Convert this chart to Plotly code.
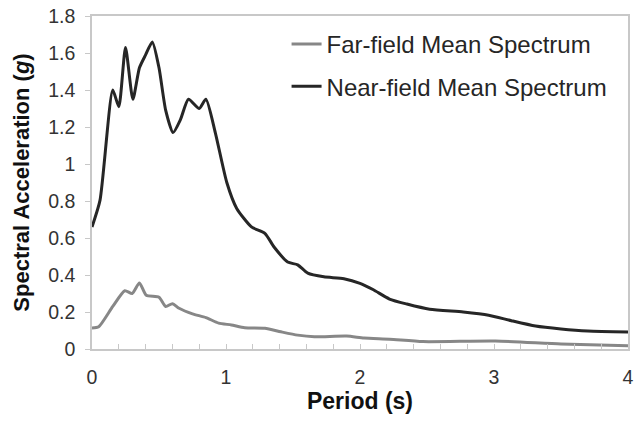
import plotly.graph_objects as go

near_T = [0.0, 0.06, 0.155, 0.20, 0.25, 0.305, 0.354, 0.40, 0.45, 0.50, 0.55, 0.605, 0.66, 0.72, 0.80, 0.85,
          0.92, 1.006, 1.08, 1.19, 1.29, 1.36, 1.46, 1.535, 1.61, 1.73, 1.88, 2.0, 2.10, 2.22, 2.35, 2.52,
          2.77, 2.96, 3.13, 3.31, 3.50, 3.70, 4.0]
near_Sa = [0.66, 0.805, 1.40, 1.31, 1.63, 1.35, 1.52, 1.59, 1.66, 1.52, 1.29, 1.17, 1.24, 1.35, 1.30, 1.35,
           1.17, 0.90, 0.76, 0.66, 0.625, 0.55, 0.47, 0.455, 0.41, 0.39, 0.38, 0.355, 0.32, 0.27, 0.243, 0.215,
           0.20, 0.183, 0.153, 0.124, 0.108, 0.097, 0.092]

far_T = [0.0, 0.05, 0.155, 0.245, 0.30, 0.354, 0.405, 0.50, 0.55, 0.60, 0.65, 0.75, 0.85, 0.945, 1.04, 1.14,
         1.29, 1.41, 1.535, 1.66, 1.90, 2.03, 2.22, 2.47, 3.01, 3.50, 4.0]
far_Sa = [0.113, 0.12, 0.23, 0.315, 0.30, 0.357, 0.29, 0.28, 0.23, 0.245, 0.22, 0.19, 0.17, 0.14, 0.13, 0.115,
          0.112, 0.093, 0.075, 0.066, 0.07, 0.059, 0.053, 0.04, 0.043, 0.027, 0.018]

fig = go.Figure()
fig.add_trace(go.Scatter(x=far_T, y=far_Sa, mode="lines", name="Far-field Mean Spectrum",
                         line=dict(color="#878787", width=3, shape="spline", smoothing=0.6),
                         legendgroup="a"))
fig.add_trace(go.Scatter(x=near_T, y=near_Sa, mode="lines", name="Near-field Mean Spectrum",
                         line=dict(color="#262626", width=3, shape="spline", smoothing=0.6),
                         legendgroup="b"))

fig.update_layout(
    width=638, height=421,
    margin=dict(l=92, r=4, t=16, b=72),
    paper_bgcolor="white", plot_bgcolor="white",
    font=dict(family="Liberation Sans, Arial, sans-serif", color="#333333"),
    legend=dict(x=0.363, y=0.982, xanchor="left", yanchor="top",
                font=dict(size=24, color="#262626"), tracegroupgap=8,
                bgcolor="rgba(0,0,0,0)", itemwidth=30),
    showlegend=True,
)
fig.update_xaxes(
    range=[0, 4], dtick=1, tick0=0,
    showgrid=False, zeroline=False,
    showline=True, linecolor="#c8c8c8", linewidth=1.5, mirror=True,
    ticks="inside", ticklen=5, tickcolor="#c8c8c8",
    minor=dict(dtick=0.2, ticks="inside", ticklen=5, tickcolor="#c8c8c8"),
    tickfont=dict(size=19.5, color="#333333"), ticklabelstandoff=10,
    title=dict(text="<b>Period (s)</b>", font=dict(size=23, color="#111111"), standoff=4),
)
fig.update_yaxes(
    range=[0, 1.8], dtick=0.2, tick0=0,
    showgrid=False, zeroline=False,
    showline=True, linecolor="#c8c8c8", linewidth=1.5, mirror=True,
    ticks="outside", ticklen=5, tickcolor="#c8c8c8",
    tickfont=dict(size=19.5, color="#333333"), ticklabelstandoff=6,
    title=dict(text="<b>Spectral Acceleration (<i>g</i>)</b>", font=dict(size=22, color="#111111"), standoff=13),
)

fig.write_html("out.html")
